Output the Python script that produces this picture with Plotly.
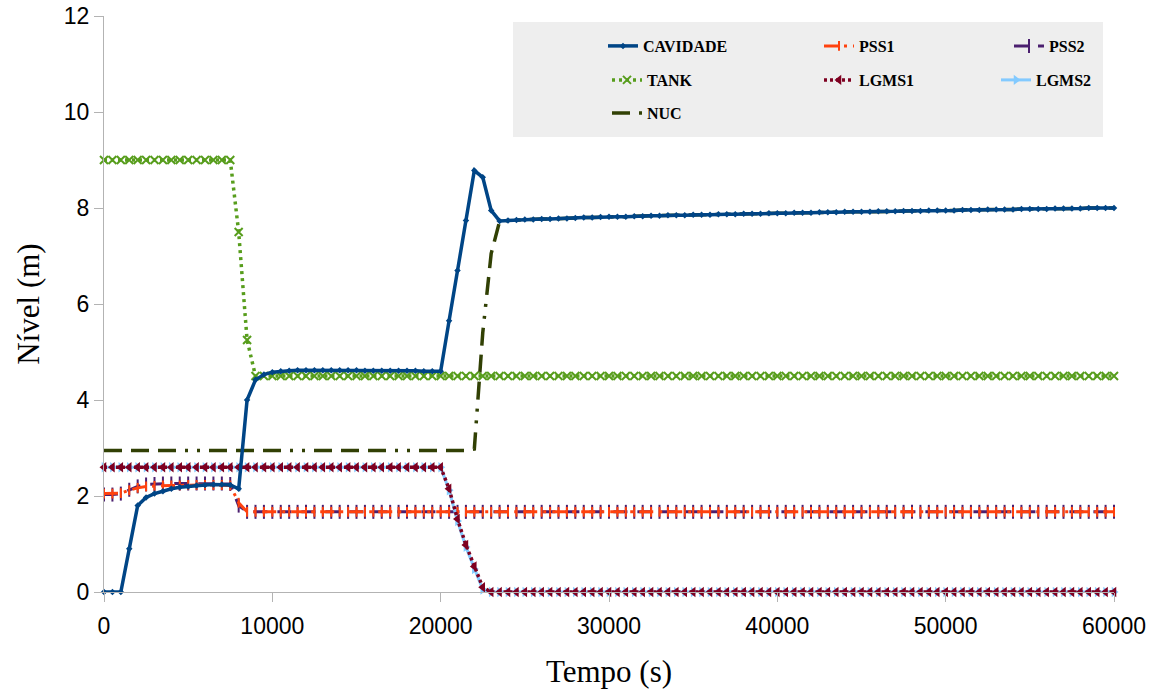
import plotly.graph_objects as go

# Sampling instants of the simulation output (s)
tempo = list(range(0, 60001, 500))

# Water levels (m) at each sampling instant
cavidade = [
    0.0, 0.0, 0.0, 0.9, 1.8, 1.97, 2.05, 2.1, 2.15, 2.18, 2.2, 2.22, 2.23, 2.24, 2.24, 2.23, 2.15, 4.0, 4.42, 4.53,
    4.58, 4.6, 4.61, 4.62,
    4.62, 4.62, 4.62, 4.62, 4.62, 4.62, 4.62, 4.61, 4.61, 4.61, 4.61, 4.61, 4.61, 4.61, 4.6, 4.6,
    4.6, 5.65, 6.7, 7.74, 8.78, 8.64, 7.95, 7.73, 7.74, 7.75, 7.76,
    7.76, 7.77, 7.77, 7.78, 7.78, 7.79, 7.8, 7.8, 7.81, 7.82,
    7.82, 7.82, 7.83, 7.83, 7.84, 7.84, 7.85, 7.85, 7.85, 7.86,
    7.86, 7.86, 7.87, 7.87, 7.87, 7.88, 7.88, 7.88, 7.89, 7.89,
    7.89, 7.9, 7.9, 7.9, 7.91, 7.91, 7.91, 7.92, 7.92, 7.92,
    7.92, 7.93, 7.93, 7.93, 7.94, 7.94, 7.94, 7.95, 7.95, 7.95,
    7.95, 7.96, 7.96, 7.96, 7.97, 7.97, 7.97, 7.97, 7.98, 7.98,
    7.98, 7.98, 7.99, 7.99, 7.99, 7.99, 8.0, 8.0, 8.0, 8.0,
]

pss1 = [
    2.05, 2.05, 2.06, 2.12, 2.17, 2.2,
    2.21, 2.22, 2.22, 2.22, 2.23, 2.23, 2.23, 2.23, 2.23, 2.22,
    1.86, 1.67,
    1.67, 1.67, 1.67, 1.67, 1.67, 1.67, 1.67, 1.67, 1.67, 1.67, 1.67, 1.67, 1.67, 1.67, 1.67, 1.67, 1.67, 1.67, 1.67, 1.67,
    1.67, 1.67, 1.67, 1.67, 1.67, 1.67, 1.67, 1.67, 1.67, 1.67, 1.67, 1.67, 1.67, 1.67, 1.67, 1.67, 1.67, 1.67, 1.67, 1.67,
    1.67, 1.67, 1.67, 1.67, 1.67, 1.67, 1.67, 1.67, 1.67, 1.67, 1.67, 1.67, 1.67, 1.67, 1.67, 1.67, 1.67, 1.67, 1.67, 1.67,
    1.67, 1.67, 1.67, 1.67, 1.67, 1.67, 1.67, 1.67, 1.67, 1.67, 1.67, 1.67, 1.67, 1.67, 1.67, 1.67, 1.67, 1.67, 1.67, 1.67,
    1.67, 1.67, 1.67, 1.67, 1.67, 1.67, 1.67, 1.67, 1.67, 1.67, 1.67, 1.67, 1.67, 1.67, 1.67, 1.67, 1.67, 1.67, 1.67, 1.67,
    1.67, 1.67, 1.67,
]

pss2 = [
    2.03, 2.03, 2.05, 2.13, 2.2, 2.24,
    2.25, 2.26, 2.26, 2.26, 2.26, 2.26, 2.26, 2.26, 2.26, 2.25,
    1.8, 1.67,
    1.67, 1.67, 1.67, 1.67, 1.67, 1.67, 1.67, 1.67, 1.67, 1.67, 1.67, 1.67, 1.67, 1.67, 1.67, 1.67, 1.67, 1.67, 1.67, 1.67,
    1.67, 1.67, 1.67, 1.67, 1.67, 1.67, 1.67, 1.67, 1.67, 1.67, 1.67, 1.67, 1.67, 1.67, 1.67, 1.67, 1.67, 1.67, 1.67, 1.67,
    1.67, 1.67, 1.67, 1.67, 1.67, 1.67, 1.67, 1.67, 1.67, 1.67, 1.67, 1.67, 1.67, 1.67, 1.67, 1.67, 1.67, 1.67, 1.67, 1.67,
    1.67, 1.67, 1.67, 1.67, 1.67, 1.67, 1.67, 1.67, 1.67, 1.67, 1.67, 1.67, 1.67, 1.67, 1.67, 1.67, 1.67, 1.67, 1.67, 1.67,
    1.67, 1.67, 1.67, 1.67, 1.67, 1.67, 1.67, 1.67, 1.67, 1.67, 1.67, 1.67, 1.67, 1.67, 1.67, 1.67, 1.67, 1.67, 1.67, 1.67,
    1.67, 1.67, 1.67,
]

tank = [
    9.0, 9.0, 9.0, 9.0, 9.0, 9.0, 9.0, 9.0, 9.0, 9.0, 9.0, 9.0, 9.0, 9.0, 9.0, 9.0,
    7.5, 5.25,
    4.5, 4.5, 4.5, 4.5, 4.5, 4.5, 4.5, 4.5, 4.5, 4.5, 4.5, 4.5, 4.5, 4.5, 4.5, 4.5, 4.5, 4.5, 4.5, 4.5,
    4.5, 4.5, 4.5, 4.5, 4.5, 4.5, 4.5, 4.5, 4.5, 4.5, 4.5, 4.5, 4.5, 4.5, 4.5, 4.5, 4.5, 4.5, 4.5, 4.5,
    4.5, 4.5, 4.5, 4.5, 4.5, 4.5, 4.5, 4.5, 4.5, 4.5, 4.5, 4.5, 4.5, 4.5, 4.5, 4.5, 4.5, 4.5, 4.5, 4.5,
    4.5, 4.5, 4.5, 4.5, 4.5, 4.5, 4.5, 4.5, 4.5, 4.5, 4.5, 4.5, 4.5, 4.5, 4.5, 4.5, 4.5, 4.5, 4.5, 4.5,
    4.5, 4.5, 4.5, 4.5, 4.5, 4.5, 4.5, 4.5, 4.5, 4.5, 4.5, 4.5, 4.5, 4.5, 4.5, 4.5, 4.5, 4.5, 4.5, 4.5,
    4.5, 4.5, 4.5,
]

lgms1 = [
    2.6, 2.6, 2.6, 2.6, 2.6, 2.6, 2.6, 2.6, 2.6, 2.6, 2.6, 2.6, 2.6, 2.6, 2.6, 2.6, 2.6, 2.6, 2.6, 2.6,
    2.6, 2.6, 2.6, 2.6, 2.6, 2.6, 2.6, 2.6, 2.6, 2.6, 2.6, 2.6, 2.6, 2.6, 2.6, 2.6, 2.6, 2.6, 2.6, 2.6,
    2.6,
    2.15, 1.52, 0.98, 0.53, 0.1,
    0.0, 0.0, 0.0, 0.0, 0.0, 0.0, 0.0, 0.0, 0.0, 0.0, 0.0, 0.0, 0.0, 0.0, 0.0, 0.0, 0.0, 0.0, 0.0, 0.0,
    0.0, 0.0, 0.0, 0.0, 0.0, 0.0, 0.0, 0.0, 0.0, 0.0, 0.0, 0.0, 0.0, 0.0, 0.0, 0.0, 0.0, 0.0, 0.0, 0.0,
    0.0, 0.0, 0.0, 0.0, 0.0, 0.0, 0.0, 0.0, 0.0, 0.0, 0.0, 0.0, 0.0, 0.0, 0.0, 0.0, 0.0, 0.0, 0.0, 0.0,
    0.0, 0.0, 0.0, 0.0, 0.0, 0.0, 0.0, 0.0, 0.0, 0.0, 0.0, 0.0, 0.0, 0.0, 0.0,
]

lgms2 = [
    2.6, 2.6, 2.6, 2.6, 2.6, 2.6, 2.6, 2.6, 2.6, 2.6, 2.6, 2.6, 2.6, 2.6, 2.6, 2.6, 2.6, 2.6, 2.6, 2.6,
    2.6, 2.6, 2.6, 2.6, 2.6, 2.6, 2.6, 2.6, 2.6, 2.6, 2.6, 2.6, 2.6, 2.6, 2.6, 2.6, 2.6, 2.6, 2.6, 2.6,
    2.6,
    2.12, 1.48, 0.94, 0.48, 0.05,
    0.0, 0.0, 0.0, 0.0, 0.0, 0.0, 0.0, 0.0, 0.0, 0.0, 0.0, 0.0, 0.0, 0.0, 0.0, 0.0, 0.0, 0.0, 0.0, 0.0,
    0.0, 0.0, 0.0, 0.0, 0.0, 0.0, 0.0, 0.0, 0.0, 0.0, 0.0, 0.0, 0.0, 0.0, 0.0, 0.0, 0.0, 0.0, 0.0, 0.0,
    0.0, 0.0, 0.0, 0.0, 0.0, 0.0, 0.0, 0.0, 0.0, 0.0, 0.0, 0.0, 0.0, 0.0, 0.0, 0.0, 0.0, 0.0, 0.0, 0.0,
    0.0, 0.0, 0.0, 0.0, 0.0, 0.0, 0.0, 0.0, 0.0, 0.0, 0.0, 0.0, 0.0, 0.0, 0.0,
]

nuc = [
    2.95, 2.95, 2.95, 2.95, 2.95, 2.95, 2.95, 2.95, 2.95, 2.95, 2.95, 2.95, 2.95, 2.95, 2.95, 2.95, 2.95, 2.95, 2.95, 2.95,
    2.95, 2.95, 2.95, 2.95, 2.95, 2.95, 2.95, 2.95, 2.95, 2.95, 2.95, 2.95, 2.95, 2.95, 2.95, 2.95, 2.95, 2.95, 2.95, 2.95,
    2.95, 2.95, 2.95, 2.95,
    2.98, 5.4, 7.05, 7.72,
    7.74, 7.75, 7.76,
    7.76, 7.77, 7.77, 7.78, 7.78, 7.79, 7.8, 7.8, 7.81, 7.82,
    7.82, 7.82, 7.83, 7.83, 7.84, 7.84, 7.85, 7.85, 7.85, 7.86,
    7.86, 7.86, 7.87, 7.87, 7.87, 7.88, 7.88, 7.88, 7.89, 7.89,
    7.89, 7.9, 7.9, 7.9, 7.91, 7.91, 7.91, 7.92, 7.92, 7.92,
    7.92, 7.93, 7.93, 7.93, 7.94, 7.94, 7.94, 7.95, 7.95, 7.95,
    7.95, 7.96, 7.96, 7.96, 7.97, 7.97, 7.97, 7.97, 7.98, 7.98,
    7.98, 7.98, 7.99, 7.99, 7.99, 7.99, 8.0, 8.0, 8.0, 8.0,
]

x_ticks = [0, 10000, 20000, 30000, 40000, 50000, 60000]
y_ticks = [0, 2, 4, 6, 8, 10, 12]

series = {
    "CAVIDADE": cavidade, "PSS1": pss1, "PSS2": pss2, "TANK": tank,
    "LGMS1": lgms1, "LGMS2": lgms2, "NUC": nuc,
}
for name, vals in series.items():
    assert len(vals) == len(tempo), (name, len(vals))

# Plot area in pixels: left 104, right 1114, top 16, bottom 592
L, R, T, B = 104, 1114, 16, 592


def paper_x(px):
    return (px - L) / (R - L)


def paper_y(py):
    return (B - py) / (B - T)


# Styles per series; legend: (legend id, text-left px, row-centre px)
styles = {
    "NUC": dict(color="#314004", width=3.5, dash="18px,9px,18px,9px,18px,9px,3px,9px,3px,9px",
                marker=None, legend=("legend7", 647, 113)),
    "PSS2": dict(color="#4b1f6f", width=3, dash="14px,10px",
                 marker=dict(symbol="line-ns", size=10, line=dict(width=2, color="#4b1f6f")),
                 legend=("legend3", 1049, 46)),
    "PSS1": dict(color="#ff420e", width=3, dash="14px,6px,3px,6px",
                 marker=dict(symbol="line-ns", size=7, line=dict(width=2, color="#ff420e")),
                 legend=("legend2", 859, 46)),
    "TANK": dict(color="#579d1c", width=3.5, dash="3px,4px",
                 marker=dict(symbol="x-thin", size=8, line=dict(width=2, color="#579d1c")),
                 legend=("legend4", 647, 80)),
    "LGMS2": dict(color="#83caff", width=3, dash="solid",
                  marker=dict(symbol="triangle-right", size=9, color="#83caff"),
                  legend=("legend6", 1036, 80)),
    "LGMS1": dict(color="#7e0021", width=3.5, dash="3px,3px",
                  marker=dict(symbol="triangle-left", size=9, color="#7e0021"),
                  legend=("legend5", 859, 80)),
    "CAVIDADE": dict(color="#004586", width=3.5, dash="solid",
                     marker=dict(symbol="diamond", size=5, color="#004586"),
                     legend=("legend", 643, 46)),
}

fig = go.Figure()
for name, st in styles.items():
    mode = "lines+markers" if st["marker"] else "lines"
    kw = dict(marker=st["marker"]) if st["marker"] else {}
    fig.add_trace(go.Scatter(
        x=tempo, y=series[name], name=name, mode=mode,
        line=dict(color=st["color"], width=st["width"], dash=st["dash"]),
        legend=st["legend"][0], cliponaxis=False, **kw,
    ))

legend_font = dict(family="Liberation Serif", size=16, color="#000000", weight="bold")
legend_layouts = {}
for name, st in styles.items():
    lid, text_px, row_py = st["legend"]
    legend_layouts[lid] = dict(
        x=paper_x(text_px - 40), y=paper_y(row_py), xanchor="left", yanchor="middle",
        bgcolor="rgba(0,0,0,0)", borderwidth=0, font=legend_font,
        orientation="v", itemsizing="trace",
    )

axis_common = dict(
    showgrid=False, zeroline=False, showline=True, linecolor="#b3b3b3", linewidth=1,
    ticks="outside", ticklen=9, tickcolor="#b3b3b3", tickwidth=1, automargin=False,
    tickfont=dict(family="Liberation Sans", size=23, color="#000000"),
)

fig.update_layout(
    width=1160, height=689,
    margin=dict(l=L, r=1160 - R, t=T, b=689 - B),
    paper_bgcolor="white", plot_bgcolor="white",
    showlegend=True,
    xaxis=dict(range=[0, 60000], tickvals=x_ticks, ticktext=[str(v) for v in x_ticks],
               ticklabelstandoff=4,
               title=dict(text="Tempo (s)", standoff=24,
                          font=dict(family="Liberation Serif", size=31, color="#000000")),
               **axis_common),
    yaxis=dict(range=[0, 12], tickvals=y_ticks, ticktext=[str(v) for v in y_ticks],
               title=dict(text="Nível (m)", standoff=14,
                          font=dict(family="Liberation Serif", size=31, color="#000000")),
               **axis_common),
    shapes=[dict(type="rect", xref="paper", yref="paper",
                 x0=paper_x(513), x1=paper_x(1103), y0=paper_y(137), y1=paper_y(22),
                 fillcolor="#eeeeee", line=dict(width=0), layer="below")],
    **legend_layouts,
)

fig.write_html("out.html")
